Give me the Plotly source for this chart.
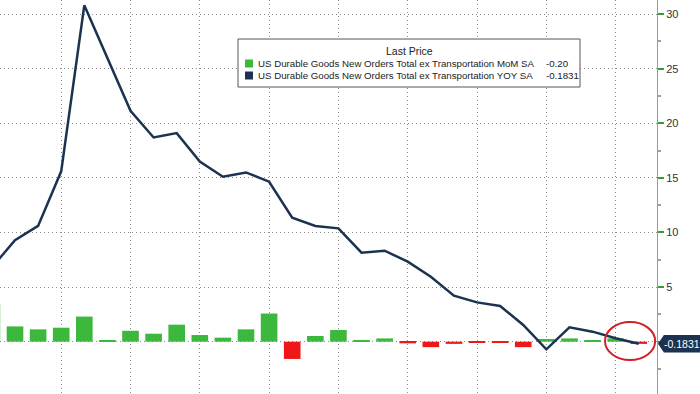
import plotly.graph_objects as go

months = ["Dec 2020", "Jan 2021", "Feb 2021", "Mar 2021", "Apr 2021", "May 2021", "Jun 2021",
          "Jul 2021", "Aug 2021", "Sep 2021", "Oct 2021", "Nov 2021", "Dec 2021", "Jan 2022",
          "Feb 2022", "Mar 2022", "Apr 2022", "May 2022", "Jun 2022", "Jul 2022", "Aug 2022",
          "Sep 2022", "Oct 2022", "Nov 2022", "Dec 2022", "Jan 2023", "Feb 2023", "Mar 2023",
          "Apr 2023"]

mom = [3.4, 1.4, 1.13, 1.28, 2.3, 0.13, 1.0, 0.73, 1.56, 0.61, 0.37, 1.13, 2.58, -1.58,
       0.52, 1.07, 0.16, 0.3, -0.15, -0.5, -0.2, -0.1, -0.1, -0.5, 0.25, 0.3, 0.1, 0.3, -0.20]

yoy = [6.8, 9.3, 10.6, 15.6, 30.8, 26.0, 21.15, 18.7, 19.1, 16.5, 15.1, 15.5, 14.65, 11.36,
       10.6, 10.38, 8.15, 8.33, 7.33, 5.95, 4.21, 3.6, 3.27, 1.53, -0.7, 1.32, 0.92, 0.31, -0.1831]

legend_title = "Last Price"
mom_label = "US Durable Goods New Orders Total ex Transportation MoM SA"
yoy_label = "US Durable Goods New Orders Total ex Transportation YOY SA"
mom_last = "-0.20"
yoy_last = "-0.1831"

GREEN = "#3cb83c"
RED = "#ee1818"
NAVY = "#1b3350"
GRID = "#8c8c8c"

bar_colors = [GREEN if v >= 0 else RED for v in mom]

fig = go.Figure()
fig.add_trace(go.Bar(x=months, y=mom, marker=dict(color=bar_colors, line=dict(width=0)),
                     name=mom_label, showlegend=False))
fig.add_trace(go.Scatter(x=months, y=yoy, mode="lines", line=dict(color=NAVY, width=2.5),
                         name=yoy_label, showlegend=False))

grid_months = months[3::3]
W = 657.0   # plot-area width in px
H = 394.0   # plot-area height in px


def px(x):
    return x / W


def py(y):
    return 1 - y / H


fig.update_layout(
    width=700, height=394,
    margin=dict(l=0, r=43, t=0, b=0),
    paper_bgcolor="white", plot_bgcolor="white",
    bargap=0.28, showlegend=False,
    font=dict(family="Liberation Sans, Arial, sans-serif", size=11, color="#333333"),
    xaxis=dict(type="category", range=[0.351, 28.79], tickmode="array", tickvals=grid_months,
               showticklabels=False, showgrid=True, gridcolor=GRID, griddash="1px,3px",
               gridwidth=1, zeroline=False, ticks="", showline=False, automargin=False),
    yaxis=dict(side="right", range=[-4.79, 31.29], tickmode="array",
               tickvals=[0, 5, 10, 15, 20, 25, 30], ticktext=["", "5", "10", "15", "20", "25", "30"],
               showgrid=True, gridcolor=GRID, griddash="1px,3px", gridwidth=1,
               zeroline=False, showline=True, linecolor="#6cba6c", linewidth=1,
               ticks="outside", ticklen=6, tickcolor="#3a9a3a", tickwidth=2,
               minor=dict(tickvals=[-2.5, 2.5, 7.5, 12.5, 17.5, 22.5, 27.5], ticks="outside",
                          ticklen=3, tickcolor="#a0a0a0", showgrid=False),
               tickfont=dict(size=11, color="#333333"), automargin=False),
)

# manual legend box
fig.add_shape(type="rect", xref="paper", yref="paper", x0=px(238), x1=px(580), y0=py(87), y1=py(39),
              line=dict(color="#555555", width=1), fillcolor="white", layer="above")
fig.add_annotation(xref="paper", yref="paper", x=px(409), y=py(51), text=legend_title,
                   showarrow=False, xanchor="center", yanchor="middle",
                   font=dict(size=10.5, color="#222222"))
rows = [(mom_label, mom_last, GREEN, 63.5), (yoy_label, yoy_last, NAVY, 75.5)]
for label, last, col, yc in rows:
    fig.add_shape(type="rect", xref="paper", yref="paper", x0=px(245), x1=px(253),
                  y0=py(yc + 4), y1=py(yc - 4), fillcolor=col, line=dict(width=0), layer="above")
    fig.add_annotation(xref="paper", yref="paper", x=px(256), y=py(yc), text=label,
                       showarrow=False, xanchor="left", yanchor="middle",
                       font=dict(size=9.7, color="#222222"))
    fig.add_annotation(xref="paper", yref="paper", x=px(544), y=py(yc), text=last,
                       showarrow=False, xanchor="left", yanchor="middle",
                       font=dict(size=9.7, color="#222222"))

# red ellipse highlight
fig.add_shape(type="circle", xref="x", yref="y", x0=26.54, x1=28.71, y0=-1.68, y1=1.80,
              line=dict(color="#d0202a", width=2))

# last value label on the axis
fig.add_shape(type="path", xref="paper", yref="y",
              path="M 1.0015,-0.1831 L 1.0105,0.62 L 1.07,0.62 L 1.07,-0.99 L 1.0105,-0.99 Z",
              fillcolor=NAVY, line=dict(width=0), layer="above")
fig.add_annotation(xref="paper", yref="y", x=px(662), y=-0.1831, xanchor="left", yanchor="middle",
                   text=yoy_last, showarrow=False, font=dict(color="white", size=10.5))

fig.write_html("out.html", config={"displayModeBar": False},
               post_script="document.body.style.margin='0px';")
